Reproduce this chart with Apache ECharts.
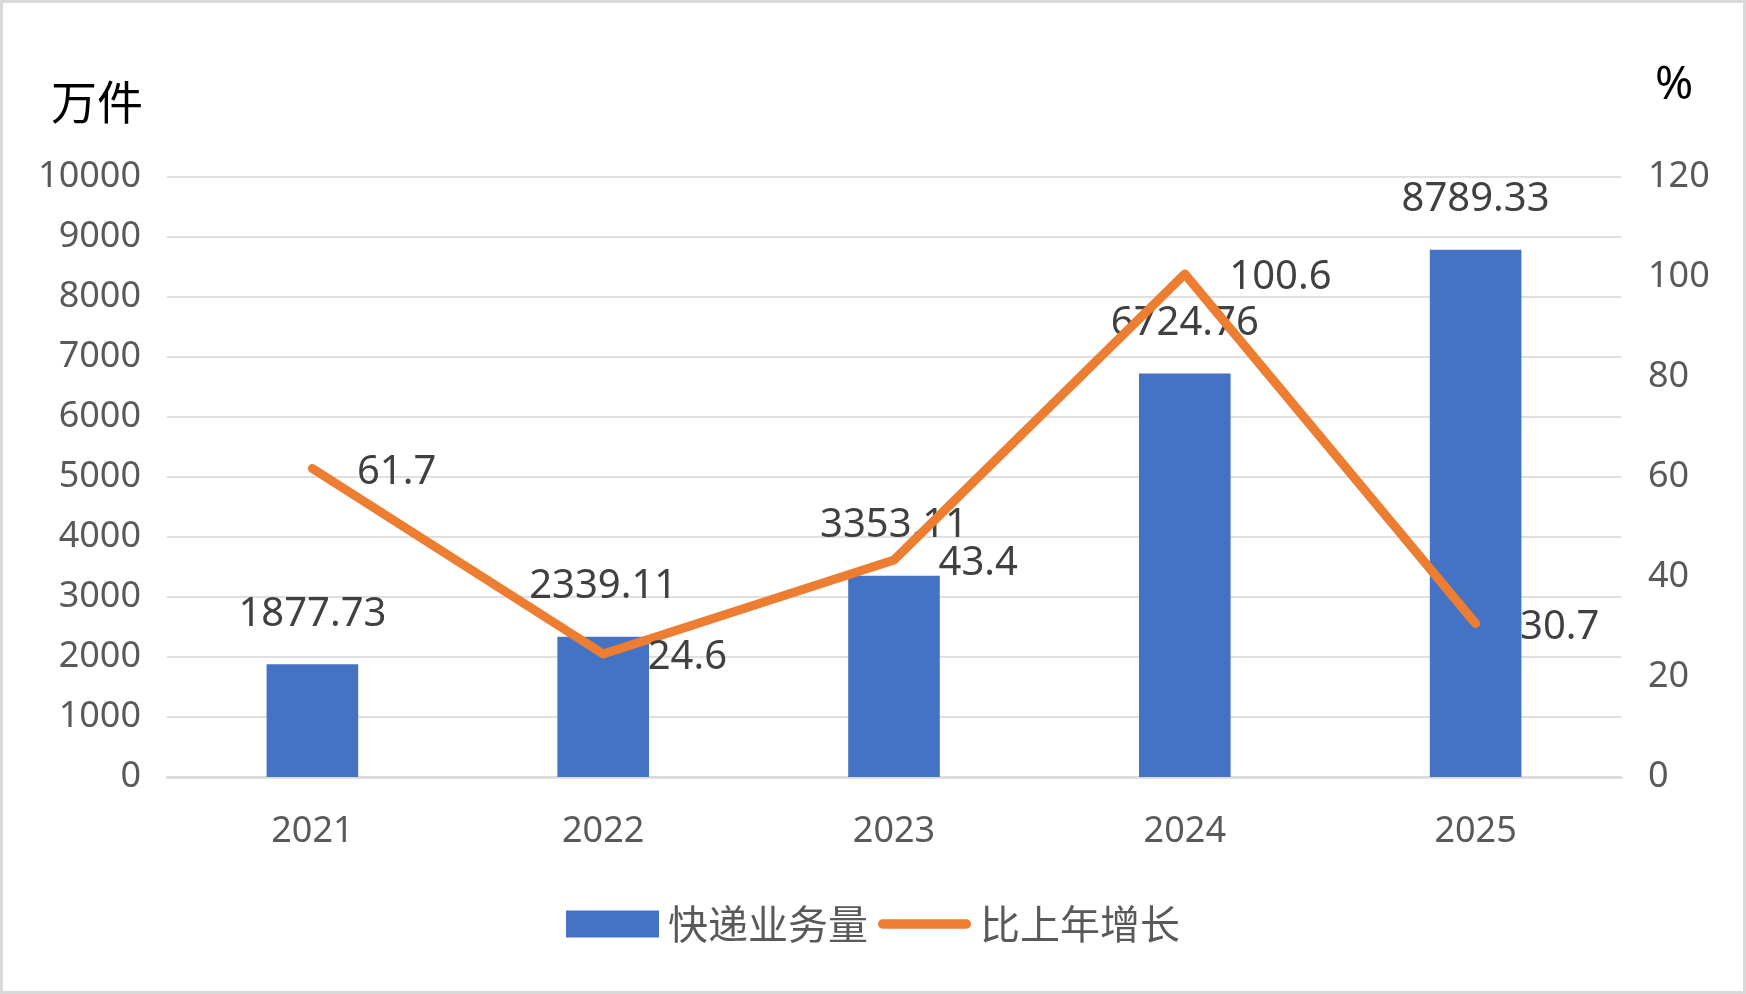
<!DOCTYPE html>
<html>
<head>
<meta charset="utf-8">
<script src="https://cdn.jsdelivr.net/npm/echarts@6/dist/echarts.min.js"></script>
<style>
html,body{margin:0;padding:0;background:#fff;}
#c{width:1740px;height:988px;border:3px solid #d9d9d9;}
</style>
</head>
<body>
<div id="c"></div>
<script>
const categories = ['2021', '2022', '2023', '2024', '2025'];
const volume = [1877.73, 2339.11, 3353.11, 6724.76, 8789.33];
const growth = [61.7, 24.6, 43.4, 100.6, 30.7];
const volumeName = '快递业务量';
const growthName = '比上年增长';
const leftUnit = '万件';
const rightUnit = '%';

const FONT = '"Noto Sans", "Noto Sans CJK SC", sans-serif';
const chart = echarts.init(document.getElementById('c'));
chart.setOption({
  animation: false,
  textStyle: { fontFamily: FONT },
  grid: { left: 164, right: 122, top: 174, bottom: 214, containLabel: false },
  legend: {
    data: [
      { name: volumeName, icon: 'rect' },
      { name: growthName, icon: 'path://M5,0 L95,0 A5,5 0 0 1 95,10 L5,10 A5,5 0 0 1 5,0 Z' }
    ],
    bottom: 42,
    left: 'center',
    itemWidth: 93,
    itemHeight: 27,
    itemGap: 10,
    textStyle: { fontSize: 40, color: '#595959', fontFamily: '"Noto Sans CJK SC", sans-serif', padding: [0, 0, 0, 4] }
  },
  xAxis: {
    type: 'category',
    data: categories,
    axisTick: { show: false },
    axisLine: { lineStyle: { color: '#d9d9d9', width: 2.5 } },
    axisLabel: { fontSize: 36, color: '#595959', margin: 37 }
  },
  yAxis: [
    {
      type: 'value', min: 0, max: 10000, interval: 1000,
      name: leftUnit, nameLocation: 'end', nameGap: 52,
      nameTextStyle: { fontSize: 46, color: '#000', align: 'right', padding: [0, 24, 0, 0], fontFamily: '"Noto Sans CJK SC", sans-serif' },
      axisLabel: { fontSize: 36, color: '#595959', margin: 26, formatter: v => String(v), padding: [3, 0, 0, 0] },
      splitLine: { lineStyle: { color: '#e0e0e0', width: 2 } },
      axisLine: { show: false }, axisTick: { show: false }
    },
    {
      type: 'value', min: 0, max: 120, interval: 20,
      name: rightUnit, nameLocation: 'end', nameGap: 68,
      nameTextStyle: { fontSize: 46, color: '#000', align: 'left', padding: [0, 0, 0, 34] },
      axisLabel: { fontSize: 36, color: '#595959', margin: 27, padding: [3, 0, 0, 0] },
      splitLine: { show: false },
      axisLine: { show: false }, axisTick: { show: false }
    }
  ],
  series: [
    {
      name: volumeName, type: 'bar', data: volume, barWidth: '31.5%',
      itemStyle: { color: '#4472C4' },
      label: { show: true, position: 'top', distance: 30, fontSize: 40, color: '#404040' },
      z: 2
    },
    {
      name: growthName, type: 'line', yAxisIndex: 1, data: growth,
      symbol: 'circle', symbolSize: 1, showSymbol: true,
      lineStyle: { color: '#ED7D31', width: 9, cap: 'round', join: 'round' },
      itemStyle: { color: '#ED7D31' },
      label: { show: true, position: 'right', distance: 44, offset: [0, 4], fontSize: 40, color: '#404040' },
      z: 3
    }
  ]
});
</script>
</body>
</html>
